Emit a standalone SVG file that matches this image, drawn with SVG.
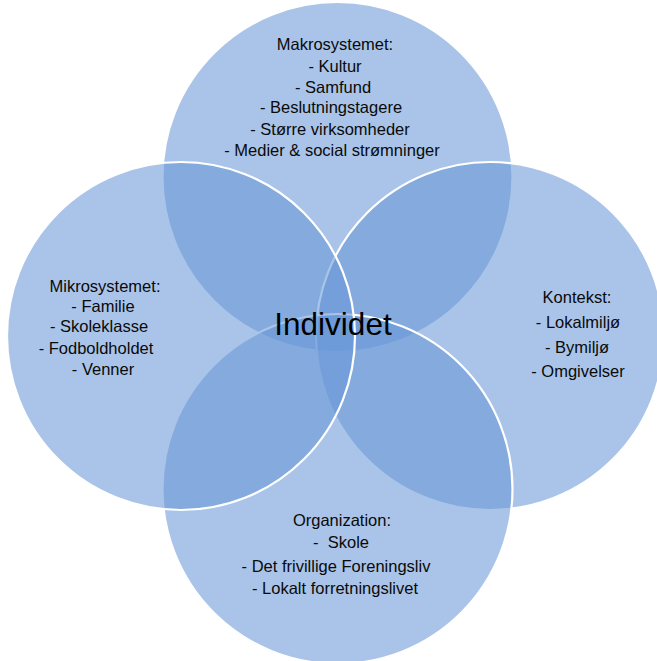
<svg xmlns="http://www.w3.org/2000/svg" width="657" height="661" viewBox="0 0 657 661">
<style>
.c{fill:#6897D7;fill-opacity:0.57;stroke:#FFFFFF;stroke-width:2.2}
.t{font-family:"Liberation Sans",Arial,sans-serif;font-size:16.5px;fill:#0a0a0a;text-anchor:middle}
.big{font-family:"Liberation Sans",Arial,sans-serif;font-size:31.5px;fill:#000;text-anchor:middle}
</style>
<rect width="657" height="661" fill="#FFFFFF"/>
<g id="makro"><circle class="c" cx="337.5" cy="177" r="175"/></g>
<g id="kontekst"><circle class="c" cx="490" cy="336" r="174"/></g>
<g id="organization"><circle class="c" cx="337.5" cy="489" r="175"/></g>
<g id="mikro"><circle class="c" cx="181" cy="336" r="174"/></g>
<g id="connectors"></g>
<g id="labels-makro">
<text class="t" x="335" y="50">Makrosystemet:</text>
<text class="t" x="335" y="71.5">- Kultur</text>
<text class="t" x="333" y="92.5">- Samfund</text>
<text class="t" x="331" y="113">- Beslutningstagere</text>
<text class="t" x="330" y="135">- Større virksomheder</text>
<text class="t" x="332" y="156">- Medier &amp; social strømninger</text>
</g>
<g id="labels-mikro">
<text class="t" x="105" y="292">Mikrosystemet:</text>
<text class="t" x="103" y="312">- Familie</text>
<text class="t" x="99" y="332">- Skoleklasse</text>
<text class="t" x="96" y="354">- Fodboldholdet</text>
<text class="t" x="103" y="375">- Venner</text>
</g>
<g id="labels-kontekst">
<text class="t" x="577" y="303">Kontekst:</text>
<text class="t" x="578" y="328">- Lokalmiljø</text>
<text class="t" x="577" y="353">- Bymiljø</text>
<text class="t" x="578" y="377">- Omgivelser</text>
</g>
<g id="labels-organization">
<text class="t" x="342" y="526">Organization:</text>
<text class="t" x="341" y="548" xml:space="preserve">-  Skole</text>
<text class="t" x="336" y="572">- Det frivillige Foreningsliv</text>
<text class="t" x="335" y="594">- Lokalt forretningslivet</text>
</g>
<g id="individet"><text class="big" x="333" y="335">Individet</text></g>
</svg>
